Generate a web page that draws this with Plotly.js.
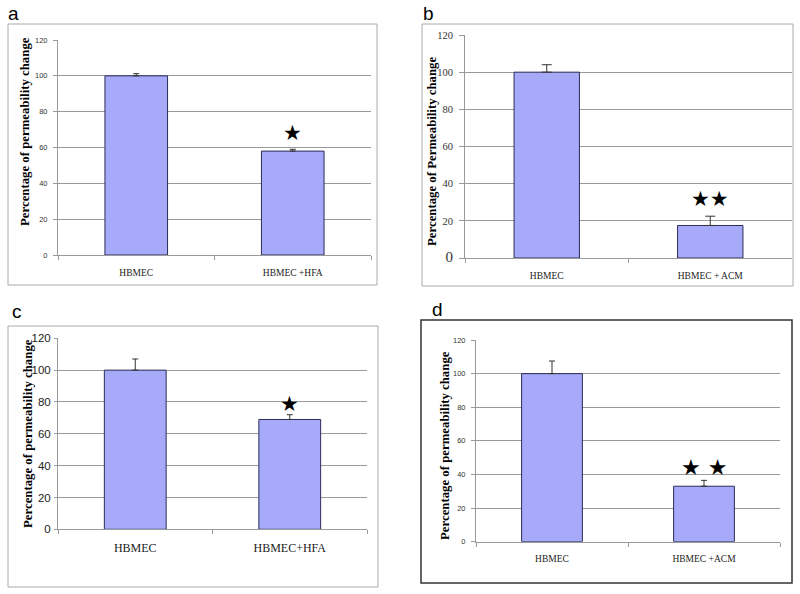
<!DOCTYPE html>
<html>
<head>
<meta charset="utf-8">
<script src="https://cdn.plot.ly/plotly-3.0.1.min.js"></script>
<style>html,body{margin:0;padding:0;background:#fff;}#chart{width:800px;height:594px;}</style>
</head>
<body>
<div id="chart"></div>
<script>
// ---- data ----
const catsA = ["HBMEC", "HBMEC +HFA"];
const valsA = [100, 58];
const errA = [1.2, 1];
const starA = [68];
const catsB = ["HBMEC", "HBMEC + ACM"];
const valsB = [100, 17.5];
const errB = [4, 5];
const starB = [32];
const catsC = ["HBMEC", "HBMEC+HFA"];
const valsC = [100, 69];
const errC = [7, 3];
const starC = [78.5];
const catsD = ["HBMEC", "HBMEC +ACM"];
const valsD = [100, 33];
const errD = [7.5, 3.5];
const starD = [44];
const yTicks = [0, 20, 40, 60, 80, 100, 120];
const panelLetters = ["a", "b", "c", "d"];
const titleA = "Percentage of permeability change";
const titleB = "Percentage of Permeability change";
const titleC = "Percentage of permeability change";
const titleD = "Percentage of permeability change";

const W = 800, H = 594;
const px = x => x / W;
const py = y => 1 - y / H;

const barColor = "#a6aaf8";
const barLine = "#2c2c58";
const gridCol = "#9a9a9a";
const SERIF = "Liberation Serif";
const SANS = "Liberation Sans";

function barTrace(cats, vals, errs, xa, ya, errW) {
  return {
    type: "bar", x: cats, y: vals, xaxis: xa, yaxis: ya,
    marker: {color: barColor, line: {color: barLine, width: 1}},
    error_y: {type: "data", symmetric: false, array: errs, arrayminus: errs.map(() => 0),
              color: "#333", thickness: 1, width: errW},
    showlegend: false, hoverinfo: "skip"
  };
}

const data = [
  barTrace(catsA, valsA, errA, "x", "y", 3),
  barTrace(catsB, valsB, errB, "x2", "y2", 5),
  barTrace(catsC, valsC, errC, "x3", "y3", 3),
  barTrace(catsD, valsD, errD, "x4", "y4", 3)
];

function xAxis(dom, anchor, fontSize, standoff) {
  return {
    domain: dom, anchor: anchor, type: "category", range: [-0.5, 1.5],
    showgrid: false, showline: true, linecolor: gridCol, linewidth: 1,
    ticks: "outside", tickson: "boundaries", ticklen: 4, tickcolor: gridCol,
    tickfont: {family: SERIF, size: fontSize, color: "#222"},
    ticklabelstandoff: standoff, fixedrange: true, zeroline: false
  };
}
function yAxis(dom, anchor, font, standoff, ticklen, ticktext) {
  const ax = {
    domain: dom, anchor: anchor, range: [0, 120], tickvals: yTicks,
    showgrid: true, gridcolor: gridCol, gridwidth: 1,
    showline: true, linecolor: gridCol, linewidth: 1,
    ticks: "outside", ticklen: ticklen, tickcolor: gridCol,
    tickfont: font, ticklabelstandoff: standoff, zeroline: false, fixedrange: true
  };
  if (ticktext) ax.ticktext = ticktext;
  return ax;
}

const bTickText = yTicks.map(v => v === 0 ? '<span style="font-size:15px">0</span>' : String(v));

function yTitle(text, x, y) {
  return {text: "<b>" + text + "</b>", xref: "paper", yref: "paper", x: px(x), y: py(y),
          xanchor: "center", yanchor: "middle", textangle: -90, showarrow: false,
          font: {family: SERIF, size: 12.8, color: "#000"}};
}
function letter(text, x, y) {
  return {text: text, xref: "paper", yref: "paper", x: px(x), y: py(y), xanchor: "left", yanchor: "top",
          showarrow: false, font: {family: SANS, size: 19, color: "#000"}};
}
function star(text, xa, ya, x, y, size) {
  return {text: text, xref: xa, yref: ya, x: x, y: y, xanchor: "center", yanchor: "middle",
          showarrow: false, font: {family: "DejaVu Sans", size: size, color: "#000"}};
}

const layout = {
  width: W, height: H, margin: {l: 0, r: 0, t: 0, b: 0},
  paper_bgcolor: "#fff", plot_bgcolor: "#fff", bargap: 0.6, showlegend: false,
  xaxis: xAxis([px(58), px(371)], "y", 9.5, 9),
  yaxis: yAxis([py(255), py(40)], "x", {family: SANS, size: 7.5, color: "#333"}, 4, 4),
  xaxis2: xAxis([px(465), px(792)], "y2", 9.5, 9),
  yaxis2: yAxis([py(258), py(35)], "x2", {family: SERIF, size: 10.5, color: "#333"}, 4, 5, bTickText),
  xaxis3: xAxis([px(58), px(367)], "y3", 12, 7),
  yaxis3: yAxis([py(529.3), py(338.3)], "x3", {family: SANS, size: 11.5, color: "#222"}, 1, 3),
  xaxis4: xAxis([px(476), px(780)], "y4", 9.5, 8),
  yaxis4: yAxis([py(541.7), py(340)], "x4", {family: SANS, size: 7.5, color: "#333"}, 4, 4),
  shapes: [
    {type: "rect", xref: "paper", yref: "paper", x0: px(8), x1: px(377), y0: py(285), y1: py(24), line: {color: "#aaa", width: 1}},
    {type: "rect", xref: "paper", yref: "paper", x0: px(422), x1: px(793), y0: py(286), y1: py(24), line: {color: "#aaa", width: 1}},
    {type: "rect", xref: "paper", yref: "paper", x0: px(8), x1: px(378), y0: py(587), y1: py(326), line: {color: "#aaa", width: 1}},
    {type: "rect", xref: "paper", yref: "paper", x0: px(421), x1: px(792), y0: py(583), y1: py(320), line: {color: "#333", width: 1.5}}
  ],
  annotations: [
    letter(panelLetters[0], 6, 1),
    letter(panelLetters[1], 421, 1),
    letter(panelLetters[2], 10, 299),
    letter(panelLetters[3], 430, 297),
    yTitle(titleA, 25, 132),
    yTitle(titleB, 432, 152),
    yTitle(titleC, 28, 434),
    yTitle(titleD, 445, 446),
    star("★", "x", "y", catsA[1], starA[0], 21),
    star("★★", "x2", "y2", catsB[1], starB[0], 21),
    star("★", "x3", "y3", catsC[1], starC[0], 21),
    star("★ ★", "x4", "y4", catsD[1], starD[0], 22)
  ]
};

Plotly.newPlot("chart", data, layout, {displayModeBar: false, staticPlot: true});
</script>
</body>
</html>
